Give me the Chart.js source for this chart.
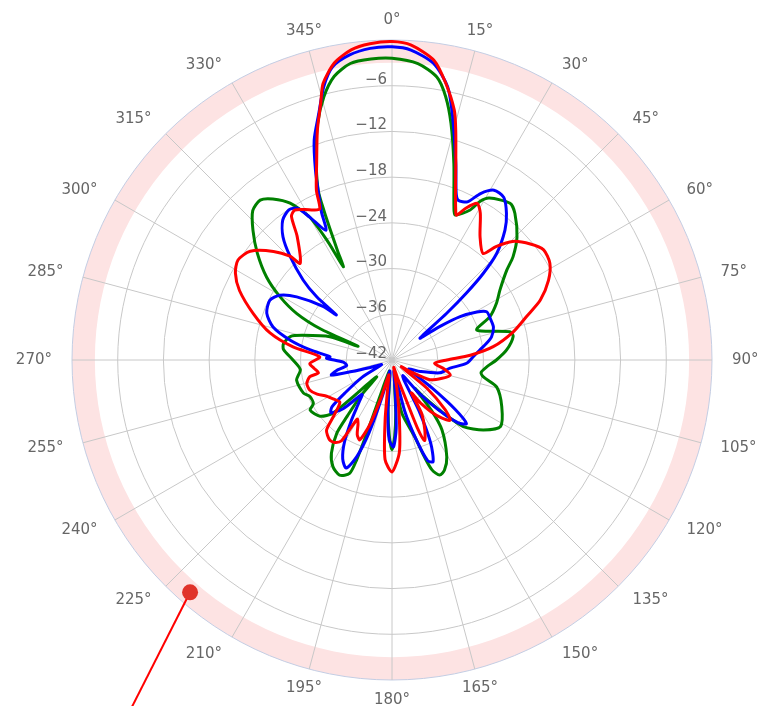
<!DOCTYPE html>
<html>
<head>
<meta charset="utf-8">
<script src="https://cdn.jsdelivr.net/npm/chart.js@4.4.0/dist/chart.umd.min.js"></script>
<style>
  html, body { margin: 0; padding: 0; background: #ffffff; }
  #wrap { width: 772px; height: 706px; }
</style>
</head>
<body>
<div id="wrap"><canvas id="c" width="772" height="706"></canvas></div>
<script>
// ---- angle axis (degrees, clockwise from top) ----
const angleStep = 0.5;
const angleCategories = Array.from({ length: 720 }, (_, i) => i * angleStep);
const angleTickDegrees = [0, 15, 30, 45, 60, 75, 90, 105, 120, 135, 150, 165, 180, 195, 210, 225, 240, 255, 270, 285, 300, 315, 330, 345];
const angleTickLabels = angleTickDegrees.map(d => d + '°');

// ---- radial axis (dB) ----
const radialMin = -42;
const radialMax = 0;
const radialStep = 6;
const radialTickLabels = [-42, -36, -30, -24, -18, -12, -6];
const bandFrom = -3;
const bandTo = 0;

// ---- series: [angle in degrees, gain in dB] ----
const redPoints = [
  [0, -0.2], [3.5, -0.6], [8, -2.3], [11, -5.0], [14, -8.2], [15.5, -10.7], [18, -14.9], [20.5, -18.2],
  [23, -20.6], [24, -21.2], [26, -19.8], [28.5, -18.6], [31, -19.5], [35.5, -22.1], [40.5, -23.6],
  [42.5, -21.8], [45.5, -19.8], [50, -18.3], [54, -17.4], [58.5, -17.7], [63, -18.95], [68, -21.0],
  [72, -23.4], [77, -25.7], [82.5, -28.6], [86.5, -31.7], [90, -34.8], [94.5, -36.4], [100, -35.0],
  [104.5, -34.1], [110, -35.0], [117.5, -36.4], [122, -39], [126, -40.5], [129, -36.1], [133, -32.5],
  [136, -31.0], [139.5, -32], [143, -33.5], [146, -35], [148, -36.3], [149.5, -37], [151, -34],
  [155, -31.8], [158, -30.6], [159.5, -32.5], [160.5, -36.5], [163, -39.5], [167, -41], [170.5, -38],
  [173, -34], [175.5, -29.8], [180, -27.3], [184, -28.9], [186.5, -34], [189, -38.5], [192, -40],
  [196, -37], [199, -33], [202, -30.7], [205, -31.2], [208, -32.5], [210.5, -33.0], [212, -29.5],
  [215, -28.8], [218, -28.7], [223, -29.4], [226, -31.3], [231, -33.2], [236, -32.8], [241, -32.2],
  [245.5, -31.2], [250, -30.5], [254.5, -30.4], [258.5, -31.0], [260, -32.2], [264, -31.7],
  [267.5, -31.2], [272.5, -32.5], [277.5, -28.9], [282.5, -25.6], [288.5, -22.8], [294.5, -20.0],
  [299, -18.5], [303, -17.9], [307.5, -18.55], [312.5, -20.9], [315.5, -22.9], [316.5, -24.5],
  [322.5, -21.55], [325, -19.0], [327, -18.55], [330, -19.2], [332.5, -19.8], [334.5, -20.0],
  [336, -17.6], [339, -14.4], [342, -10.3], [344.5, -7.0], [346, -4.6], [349, -2.3], [352.5, -0.95],
  [356, -0.4]
];
const bluePoints = [
  [0, -0.9], [3.5, -1.25], [8, -2.7], [11.5, -5.4], [14, -9.1], [18, -14.9], [21, -18.5], [22.5, -19.3],
  [25.5, -19.0], [28, -17.25], [31, -16.0], [34.5, -16.1], [38, -17.6], [41, -19.4], [44.5, -22.4],
  [46.5, -25.5], [48, -28.85], [49.5, -32.6], [52, -37.35], [55, -34.3], [57.5, -31.4], [60.5, -29.2],
  [63, -28.05], [67, -28.0], [72, -28.0], [77, -28.6], [80, -29.4], [83.5, -30.4], [87.5, -31.3],
  [92.5, -32.2], [98, -34.3], [105, -35.5], [112, -38], [118, -39.5], [122, -38.5], [125, -35.5],
  [128, -31.5], [130.5, -29.15], [133.5, -30.0], [137, -33], [141, -36.5], [145, -39.5], [149, -39],
  [152, -34.5], [155, -30], [158, -27.6], [160.5, -28], [163, -31], [166, -35], [170, -40.5],
  [174, -38], [176.5, -33], [179, -30.6], [182, -31.5], [184.5, -35], [187, -39], [191, -40.5],
  [195, -37], [197.5, -32], [200, -28.5], [203, -26.6], [206.5, -27.5], [210, -29.5], [214, -32.5],
  [218, -35], [221, -36], [225, -33], [229, -31.4], [232, -32], [235, -34.5], [240, -37.5],
  [246, -40.5], [251, -39], [254, -36.5], [256, -33.8], [259, -34.5], [263, -36], [267.5, -35.6],
  [271.5, -33.4], [273, -33.85], [277, -31.2], [281, -28.4], [285.5, -25.8], [290.5, -24.45],
  [296, -24.15], [300, -25.0], [303.5, -27.0], [308, -30.6], [309, -32.6], [310, -29.1], [312, -26.3],
  [315.5, -22.9], [318.5, -20.4], [322, -18.7], [325.5, -18.1], [328, -18.5], [330, -20.3],
  [333, -22.9], [334.5, -20.5], [336, -18.4], [338, -15.2], [340.5, -11.4], [343.5, -8.2],
  [346, -5.0], [348.5, -2.75], [352, -1.6], [356, -1.0]
];
const greenPoints = [
  [0, -2.4], [5, -2.95], [9, -4.4], [11.5, -6.7], [14, -10.0], [17.5, -15.0], [22, -20.3],
  [23.5, -21.25], [27.5, -19.8], [29, -18.2], [31, -17.2], [37, -16.25], [40, -16.9], [45.5, -19.0],
  [49.5, -21.1], [52, -22.9], [57, -25.1], [61.5, -26.4], [66, -27.9], [70.5, -30.2], [76.5, -26.1],
  [79, -25.8], [85, -26.9], [90, -28.3], [94, -29.5], [98, -30.2], [100.5, -29.8], [104.5, -27.8],
  [113, -26.35], [121.5, -25.3], [127.5, -26.9], [133, -29.2], [136, -32.3], [139.5, -35.7],
  [141, -37.2], [142, -33.6], [144.5, -30.7], [150.5, -27.4], [154.5, -26.0], [157.5, -25.65],
  [160, -26.65], [161.5, -28.6], [163.5, -31.5], [169.5, -34.9], [173, -39], [176, -35], [178, -32],
  [180, -30.2], [182, -32], [184.5, -35.5], [188, -40], [194, -40.5], [198, -38], [199, -31.8],
  [199.5, -28.1], [200.5, -26.1], [204.5, -25.4], [209, -26.0], [213, -27.4], [217, -29.95],
  [218.5, -32.5], [221, -35.6], [222.5, -39.0], [228, -31.6], [232, -30.0], [238.5, -29.4],
  [241, -30.2], [246, -30.2], [249.5, -29.6], [258, -29.2], [264, -29.9], [270, -29.0],
  [275.5, -27.7], [278.5, -27.6], [283, -28.3], [285.5, -29.9], [290.5, -33.3], [292, -37.2],
  [293.5, -31.8], [296, -28.1], [299.5, -25.1], [303.5, -22.25], [308.5, -19.4], [313, -17.05],
  [317, -15.2], [320.5, -14.8], [323.5, -15.7], [327, -17.45], [330, -20.3], [331.5, -24.1],
  [332, -26.6], [332.5, -28.2], [333.5, -26], [334.5, -23.5], [335.5, -20.5], [336.5, -17.7],
  [339.5, -13.55], [342.5, -9.5], [345.5, -6.3], [348.5, -4.0], [352, -2.7], [356, -2.4]
];
const seriesNames = ['Series 3', 'Series 2', 'Series 1'];
const seriesColors = ['#ff0000', '#0000ff', '#008000'];

// ---- marker annotation: [angle, dB] ----
const markerPoint = [221, -1.6];
const markerTail = [216.5, 17];

function toSeries(points) {
  const arr = new Array(angleCategories.length).fill(null);
  points.forEach(([a, v]) => { arr[Math.round(a / angleStep)] = v; });
  return arr;
}

const FONT = '"DejaVu Sans", "Liberation Sans", sans-serif';

const decor = {
  id: 'decor',
  beforeDraw(chart) {
    const s = chart.scales.r;
    const ctx = chart.ctx;
    const r0 = s.getDistanceFromCenterForValue(bandFrom);
    const r1 = s.getDistanceFromCenterForValue(bandTo);
    ctx.save();
    ctx.beginPath();
    ctx.arc(s.xCenter, s.yCenter, r1, 0, Math.PI * 2);
    ctx.arc(s.xCenter, s.yCenter, r0, 0, Math.PI * 2, true);
    ctx.fillStyle = '#fde3e3';
    ctx.fill();
    ctx.restore();
  },
  afterDatasetsDraw(chart) {
    const s = chart.scales.r;
    const ctx = chart.ctx;
    ctx.save();
    ctx.fillStyle = '#666666';
    // radial tick labels
    ctx.font = '15px ' + FONT;
    ctx.textAlign = 'right';
    ctx.textBaseline = 'middle';
    radialTickLabels.forEach(v => {
      const d = s.getDistanceFromCenterForValue(v);
      ctx.fillText(String(v).replace('-', '\u2212'), s.xCenter - 5, s.yCenter - d - 6);
    });
    // angle labels
    angleTickDegrees.forEach((deg, i) => {
      const p = s.getPointPosition(Math.round(deg / angleStep), s.drawingArea + 20);
      let align = 'center';
      if (deg > 20 && deg < 160) align = 'left';
      else if (deg > 200 && deg < 340) align = 'right';
      ctx.textAlign = align;
      ctx.textBaseline = 'middle';
      ctx.fillText(angleTickLabels[i], p.x, p.y);
    });
    ctx.restore();
  },
  afterDraw(chart) {
    const s = chart.scales.r;
    const ctx = chart.ctx;
    const a = s.getPointPositionForValue(Math.round(markerPoint[0] / angleStep), markerPoint[1]);
    const b = s.getPointPositionForValue(Math.round(markerTail[0] / angleStep), markerTail[1]);
    ctx.save();
    ctx.strokeStyle = '#ff0000';
    ctx.lineWidth = 2;
    ctx.beginPath();
    ctx.moveTo(a.x, a.y);
    ctx.lineTo(b.x, b.y);
    ctx.stroke();
    ctx.fillStyle = '#e0332a';
    ctx.beginPath();
    ctx.arc(a.x, a.y, 8, 0, Math.PI * 2);
    ctx.fill();
    ctx.restore();
  }
};

const datasets = [redPoints, bluePoints, greenPoints].map((pts, i) => ({
  label: seriesNames[i],
  data: toSeries(pts),
  borderColor: seriesColors[i],
  backgroundColor: 'transparent',
  borderWidth: 3,
  fill: false,
  pointRadius: 0,
  pointHoverRadius: 0,
  spanGaps: true,
  tension: 0.25
}));

new Chart(document.getElementById('c'), {
  type: 'radar',
  data: { labels: angleCategories, datasets },
  plugins: [decor],
  options: {
    responsive: false,
    animation: false,
    layout: { padding: { left: 72, right: 60, top: 40, bottom: 26 } },
    plugins: { legend: { display: false }, tooltip: { enabled: false } },
    elements: { line: { capBezierPoints: false } },
    scales: {
      r: {
        min: radialMin,
        max: radialMax,
        beginAtZero: false,
        ticks: { stepSize: radialStep, display: false },
        pointLabels: { display: false },
        grid: {
          circular: true,
          color: ctx => (ctx.tick && ctx.tick.value === radialMax ? '#c3cde3' : '#c8c8c8'),
          lineWidth: 1
        },
        angleLines: {
          color: '#c8c8c8',
          lineWidth: ctx => (Math.round(ctx.index * angleStep * 1000) % 15000 === 0 ? 1 : 0)
        }
      }
    }
  }
});
</script>
</body>
</html>
